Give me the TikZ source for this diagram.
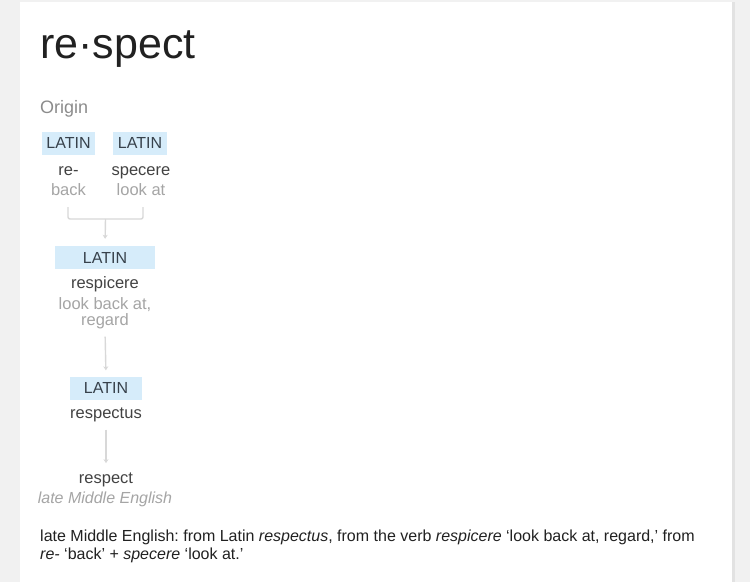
\documentclass[tikz,border=0pt]{standalone}
\usepackage{fontspec}
\setmainfont{Liberation Sans}
\usetikzlibrary{arrows.meta, positioning, calc}
\frenchspacing
\definecolor{pagegray}{RGB}{241,241,241}
\definecolor{cardshadow}{RGB}{226,226,226}
\definecolor{latinblue}{RGB}{214,236,250}
\definecolor{latintext}{RGB}{55,65,75}
\definecolor{wordcolor}{RGB}{66,66,66}
\definecolor{glosscolor}{RGB}{165,165,165}
\definecolor{origincolor}{RGB}{140,140,140}
\definecolor{linkcolor}{RGB}{216,216,216}
\definecolor{titlecolor}{RGB}{33,33,33}

\begin{document}
\begin{tikzpicture}[
    x=1pt, y=-1pt,
    lang/.style={fill=latinblue, text=latintext, font=\fontsize{16}{18}\selectfont, minimum width=#1, minimum height=23pt, inner sep=0pt},
    word/.style={anchor=base, text=wordcolor, font=\fontsize{16.5}{18}\selectfont, inner sep=0pt},
    gloss/.style={anchor=base, text=glosscolor, font=\fontsize{16.5}{18}\selectfont, inner sep=0pt},
    para/.style={anchor=base west, text=titlecolor, font=\fontsize{16}{18}\selectfont, inner sep=0pt},
    link/.style={draw=linkcolor, line width=1.4pt},
    arrow/.style={link, -{Stealth[length=4pt, width=5pt]}}
]
    % Card
    \fill[pagegray] (0,0) rectangle (750,582);
    \fill[cardshadow] (21,2) rectangle (735,582);
    \fill[white] (20,2) rectangle (732,582);

    % Headword
    \node[anchor=base west, inner sep=0pt, text=titlecolor, font=\fontsize{43}{46}\selectfont] (title) at (40,58) {re·spect};
    \node[anchor=base west, inner sep=0pt, text=origincolor, font=\fontsize{18}{20}\selectfont] (origin) at (40,113) {Origin};

    % First level
    \node[lang=53pt] (lat1) at (68.5,143) {LATIN};
    \node[word] (re) at (68.5,175) {re-};
    \node[gloss] (back) at (68.5,195) {back};
    \node[lang=54pt] (lat2) at (140,143) {LATIN};
    \node[word] (specere) at (141,175) {specere};
    \node[gloss] (lookat) at (141,195) {look at};

    % Second level
    \node[lang=100pt] (lat3) at (105,257.5) {LATIN};
    \node[word] (respicere) at (105,288) {respicere};
    \node[gloss] (look) at (105,309) {look back at,};
    \node[gloss] (regard) at (105,325) {regard};

    % Third level
    \node[lang=72pt] (lat4) at (106,388) {LATIN};
    \node[word] (respectus) at (106,418) {respectus};

    % English
    \node[word] (respect) at (106,483) {respect};
    \node[gloss, font=\fontsize{16}{18}\selectfont\itshape] (lme) at (105,503) {late Middle English};

    % Connections
    \coordinate (bl) at (68,207);
    \coordinate (br) at (143,207);
    \coordinate (join) at (105.5,219);
    \draw[link, rounded corners=2pt] (bl) |- (join) -| (br);
    \draw[arrow, shorten >=7pt] (join) -- (lat3.north);
    \draw[arrow, shorten <=8pt, shorten >=6pt] (regard.south) -- (lat4.north);
    \draw[arrow, shorten <=8pt, shorten >=9pt] (respectus.south) -- (respect.north);

    % Note
    \node[para] (note1) at (40,541) {late Middle English: from Latin \textit{respectus}, from the verb \textit{respicere} ‘look back at, regard,’ from};
    \node[para] (note2) at (40,559) {\textit{re-} ‘back’ + \textit{specere} ‘look at.’};

    \useasboundingbox (0,0) rectangle (750,582);
\end{tikzpicture}
\end{document}
